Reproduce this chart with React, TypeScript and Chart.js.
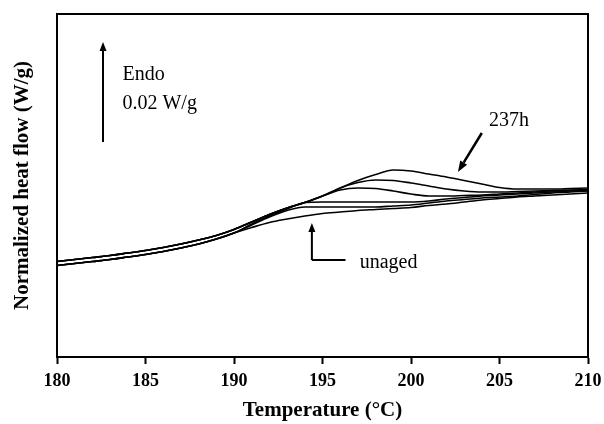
import React, { useEffect, useRef } from 'react';
import { Chart, registerables } from 'chart.js';

Chart.register(...registerables);

// Temperature (°C)
const temperatures = [
  180, 181, 182, 183, 184, 185, 186, 187, 188, 189, 190,
  191, 192, 193, 194, 195, 196, 197, 198, 199, 200,
  201, 202, 203, 204, 205, 206, 207, 208, 209, 210,
];

// Normalized heat flow (mW/g, arbitrary offset)
const aged237h = [
  19.1, 19.5, 19.9, 20.3, 20.8, 21.3, 21.9, 22.6, 23.4, 24.3, 25.5,
  27.0, 28.5, 29.8, 30.9, 32.2, 33.8, 35.3, 36.5, 37.4, 37.2,
  36.6, 36.0, 35.3, 34.6, 33.9, 33.6, 33.6, 33.6, 33.7, 33.8,
];
const agedLong = [
  19.1, 19.5, 19.9, 20.3, 20.8, 21.3, 21.9, 22.6, 23.4, 24.3, 25.5,
  27.0, 28.5, 29.8, 30.9, 32.2, 33.8, 34.9, 35.4, 35.3, 34.8,
  34.2, 33.6, 33.2, 33.0, 33.0, 33.1, 33.2, 33.3, 33.4, 33.5,
];
const agedMid = [
  19.1, 19.5, 19.9, 20.3, 20.8, 21.3, 21.9, 22.6, 23.4, 24.3, 25.5,
  27.0, 28.5, 29.8, 30.9, 32.2, 33.4, 33.8, 33.7, 33.2, 32.6,
  32.2, 32.2, 32.3, 32.4, 32.6, 32.8, 33.0, 33.2, 33.3, 33.4,
];
const agedShort = [
  18.3, 18.7, 19.1, 19.5, 20.0, 20.5, 21.1, 21.8, 22.6, 23.6, 24.8,
  26.6, 28.2, 29.6, 30.9, 31.0, 31.0, 31.0, 31.0, 31.0, 31.0,
  31.2, 31.6, 31.9, 32.2, 32.4, 32.6, 32.8, 33.0, 33.2, 33.3,
];
const agedShortest = [
  18.3, 18.7, 19.1, 19.5, 20.0, 20.5, 21.1, 21.8, 22.6, 23.6, 24.8,
  26.4, 28.0, 29.3, 30.0, 30.0, 30.0, 30.0, 30.0, 30.2, 30.4,
  30.8, 31.2, 31.5, 31.8, 32.0, 32.2, 32.5, 32.8, 33.0, 33.2,
];
const unaged = [
  18.3, 18.7, 19.1, 19.5, 20.0, 20.5, 21.1, 21.8, 22.6, 23.6, 24.8,
  25.9, 26.9, 27.6, 28.2, 28.7, 29.0, 29.3, 29.5, 29.7, 29.9,
  30.3, 30.6, 31.0, 31.4, 31.7, 32.0, 32.2, 32.4, 32.6, 32.8,
];

const seriesNames = ['237h', 'aged 4', 'aged 3', 'aged 2', 'aged 1', 'unaged'];
const seriesValues = [aged237h, agedLong, agedMid, agedShort, agedShortest, unaged];

const xTicks = [180, 185, 190, 195, 200, 205, 210];
const yMin = 0;
const yMax = 68.6;

const SERIF = "'Liberation Serif', 'Times New Roman', serif";

function drawArrowHead(ctx: CanvasRenderingContext2D, x1: number, y1: number, x2: number, y2: number, lw: number, headLen: number, headW: number) {
  const ang = Math.atan2(y2 - y1, x2 - x1);
  const bx = x2 - headLen * Math.cos(ang);
  const by = y2 - headLen * Math.sin(ang);
  ctx.lineWidth = lw;
  ctx.beginPath();
  ctx.moveTo(x1, y1);
  ctx.lineTo(bx, by);
  ctx.stroke();
  ctx.beginPath();
  ctx.moveTo(x2, y2);
  ctx.lineTo(bx + (headW / 2) * Math.sin(ang), by - (headW / 2) * Math.cos(ang));
  ctx.lineTo(bx - (headW / 2) * Math.sin(ang), by + (headW / 2) * Math.cos(ang));
  ctx.closePath();
  ctx.fill();
}

const annotationPlugin = {
  id: 'dscAnnotations',
  afterDraw(chart: any) {
    const { ctx, chartArea } = chart;
    const xs = chart.scales.x;
    const ys = chart.scales.y;
    const px = (v: number) => xs.getPixelForValue(v);
    const py = (v: number) => ys.getPixelForValue(v);
    ctx.save();
    ctx.strokeStyle = '#000';
    ctx.fillStyle = '#000';
    // frame
    ctx.lineWidth = 2;
    ctx.strokeRect(chartArea.left, chartArea.top, chartArea.right - chartArea.left, chartArea.bottom - chartArea.top);

    // Endo scale arrow (0.02 W/g = 20 mW/g)
    drawArrowHead(ctx, px(182.6), py(43), px(182.6), py(63), 2, 9, 7);
    ctx.font = `20px ${SERIF}`;
    ctx.textAlign = 'left';
    ctx.textBaseline = 'middle';
    ctx.fillText('Endo', px(183.7), py(56.4));
    ctx.fillText('0.02 W/g', px(183.7), py(50.6));

    // unaged arrow
    ctx.lineWidth = 2;
    ctx.beginPath();
    ctx.moveTo(px(196.3), py(19.4));
    ctx.lineTo(px(194.4), py(19.4));
    ctx.stroke();
    drawArrowHead(ctx, px(194.4), py(19.4), px(194.4), py(26.8), 2, 9, 7);
    ctx.fillText('unaged', px(197.1), py(18.9));

    // 237h arrow
    drawArrowHead(ctx, px(204.0), py(44.8), px(202.65), py(37.0), 2.5, 11, 8);
    ctx.fillText('237h', px(204.4), py(47.2));
    ctx.restore();
  },
};

export default function App() {
  const canvasRef = useRef<HTMLCanvasElement | null>(null);

  useEffect(() => {
    if (!canvasRef.current) return;
    const chart = new Chart(canvasRef.current, {
      type: 'line',
      data: {
        labels: temperatures,
        datasets: seriesValues.map((vals, i) => ({
          label: seriesNames[i],
          data: vals.map((v, j) => ({ x: temperatures[j], y: v })),
          borderColor: '#000',
          borderWidth: 1.6,
          pointRadius: 0,
          fill: false,
          cubicInterpolationMode: 'monotone' as const,
        })),
      },
      options: {
        responsive: false,
        animation: false,
        layout: { padding: { left: 0, top: 14, right: 16, bottom: 0 } },
        plugins: {
          legend: { display: false },
          tooltip: { enabled: false },
        },
        scales: {
          x: {
            type: 'linear',
            min: 180,
            max: 210,
            afterBuildTicks: (scale: any) => {
              scale.ticks = xTicks.map((v) => ({ value: v }));
            },
            afterFit: (scale: any) => {
              scale.height = 67;
              scale.paddingLeft = 0;
              scale.paddingRight = 0;
            },
            grid: {
              display: true,
              drawOnChartArea: false,
              drawTicks: true,
              tickLength: 7,
              tickColor: '#000',
              tickWidth: 2,
              color: '#000',
            },
            border: { display: true, color: '#000', width: 2 },
            ticks: {
              color: '#000',
              padding: 7,
              maxRotation: 0,
              autoSkip: false,
              font: { family: SERIF, size: 18, weight: 'bold' },
            },
            title: {
              display: true,
              text: 'Temperature (°C)',
              color: '#000',
              font: { family: SERIF, size: 21, weight: 'bold', lineHeight: 1 },
              padding: { top: 0, bottom: 3 },
            },
          },
          y: {
            type: 'linear',
            min: yMin,
            max: yMax,
            afterFit: (scale: any) => {
              scale.width = 57;
              scale.paddingTop = 0;
              scale.paddingBottom = 0;
            },
            grid: { display: false, drawTicks: false },
            border: { display: true, color: '#000', width: 2 },
            ticks: { display: false },
            title: {
              display: true,
              text: 'Normalized heat flow (W/g)',
              color: '#000',
              font: { family: SERIF, size: 21, weight: 'bold', lineHeight: 1 },
              padding: { top: 12, bottom: 0 },
            },
          },
        },
      },
      plugins: [annotationPlugin],
    } as any);
    return () => chart.destroy();
  }, []);

  return (
    <div style={{ position: 'absolute', left: 0, top: 0, width: 604, height: 424, background: '#fff' }}>
      <canvas ref={canvasRef} width={604} height={424} />
    </div>
  );
}
